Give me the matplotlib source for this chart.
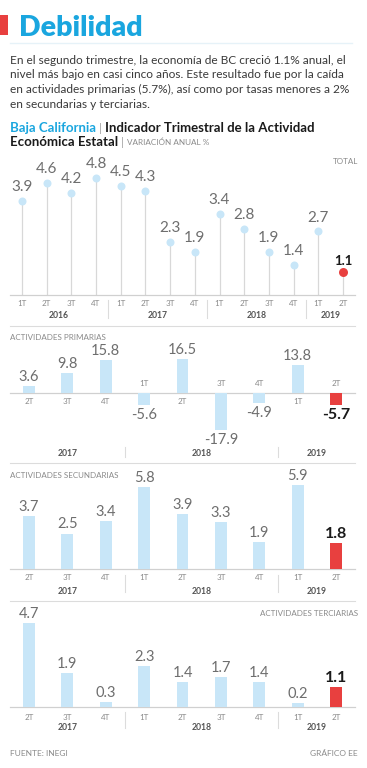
import matplotlib
matplotlib.use('Agg')
import matplotlib.pyplot as plt
from matplotlib.transforms import Affine2D, blended_transform_factory
from matplotlib.patches import Rectangle

# ---------------- data ----------------
total_quarters = ['1T', '2T', '3T', '4T', '1T', '2T', '3T', '4T',
                  '1T', '2T', '3T', '4T', '1T', '2T']
total_years = ['2016'] * 4 + ['2017'] * 4 + ['2018'] * 4 + ['2019'] * 2
total_values = [3.9, 4.6, 4.2, 4.8, 4.5, 4.3, 2.3, 1.9, 3.4, 2.8, 1.9, 1.4, 2.7, 1.1]

sector_quarters = ['2T', '3T', '4T', '1T', '2T', '3T', '4T', '1T', '2T']
sector_years = ['2017'] * 3 + ['2018'] * 4 + ['2019'] * 2
primarias = [3.6, 9.8, 15.8, -5.6, 16.5, -17.9, -4.9, 13.8, -5.7]
secundarias = [3.7, 2.5, 3.4, 5.8, 3.9, 3.3, 1.9, 5.9, 1.8]
terciarias = [4.7, 1.9, 0.3, 2.3, 1.4, 1.7, 1.4, 0.2, 1.1]

# ---------------- style ----------------
W, H = 367, 768
BLUE = '#c8e6f8'
RED = '#e8403f'
CYAN = '#1aa6df'
GRAY = '#6e6e6e'
LGRAY = '#8a8a8a'
LINE = '#dcdcdc'
NUMFONT = ['Lato', 'DejaVu Sans']
plt.rcParams['font.family'] = ['Lato', 'DejaVu Sans']

fig = plt.figure(figsize=(W / 100, H / 100), dpi=100)
fig.patch.set_facecolor('white')
PX = Affine2D().scale(1, -1).translate(0, H)   # pixel coords from top-left
PT = 0.72  # points per pixel
renderer = fig.canvas.get_renderer()


def ftext(x, y, s, **kw):
    return fig.text(x, y, s, transform=PX, **kw)


def chain(x, y, parts, gap=4):
    for s, kw in parts:
        t = ftext(x, y, s, va='center', **kw)
        bb = t.get_window_extent(renderer)
        x = bb.x1 + gap


def fline(x0, y0, x1, y1, color=LINE, lw=0.8):
    fig.add_artist(plt.Line2D([x0, x1], [y0, y1], transform=PX, color=color, lw=lw))


def px_axes(x0, y0, x1, y1):
    ax = fig.add_axes([x0 / W, 1 - y1 / H, (x1 - x0) / W, (y1 - y0) / H])
    ax.set_axis_off()
    return ax


def year_groups(years):
    groups = []
    for i, y in enumerate(years):
        if groups and groups[-1][0] == y:
            groups[-1][2] = i
        else:
            groups.append([y, i, i])
    return groups


# ---------------- header ----------------
fig.add_artist(Rectangle((0, 15), 8, 20, transform=PX, color=RED, lw=0))
ftext(19, 35.5, 'Debilidad', color=CYAN, fontsize=20.5, fontweight='heavy', va='baseline')
fline(10, 43, 352, 43, color='#e6f2f8', lw=1)

para = ['En el segundo trimestre, la economía de BC creció 1.1% anual, el',
        'nivel más bajo en casi cinco años. Este resultado fue por la caída',
        'en actividades primarias (5.7%), así como por tasas menores a 2%',
        'en secundarias y terciarias.']
for k, line in enumerate(para):
    ftext(10, 60 + k * 14.7, line, fontsize=8.6, color='#3a3a3a', va='center')

BOLD = dict(color='#1a1a1a', fontsize=9.5, fontweight='bold')
BAR = dict(color='#aaaaaa', fontsize=8.5)
chain(10, 128, [('Baja California', dict(color=CYAN, fontsize=9.5, fontweight='bold')),
                ('|', BAR),
                ('Indicador Trimestral de la Actividad', BOLD)], gap=3)
chain(10, 142, [('Económica Estatal', BOLD),
                ('|', BAR),
                ('VARIACIÓN ANUAL %', dict(color=LGRAY, fontsize=5.9))], gap=3)

# ---------------- total lollipop ----------------
ax = px_axes(10, 160, 358, 295)
ax.set_xlim(-0.486, 13.61)
base = 0.2
ax.set_ylim(base, base + 135 / 25.4)
n = len(total_values)
xs = list(range(n))
ax.vlines(xs, base, total_values, color='#d8d8d8', lw=0.9, zorder=1)
ax.scatter(xs[:-1], total_values[:-1], s=(8 * PT) ** 2, color=BLUE, zorder=2, lw=0)
ax.scatter(xs[-1:], total_values[-1:], s=(9 * PT) ** 2, color=RED, zorder=2, lw=0)
for i, v in enumerate(total_values):
    last = i == n - 1
    ax.annotate(f'{v}', (i, v), xytext=(0, (11 if last else 14) * PT), textcoords='offset points',
                ha='center', va='center', fontsize=9.5 if last else 11,
                fontweight='bold' if last else 'normal',
                color='#1a1a1a' if last else GRAY, family=NUMFONT, annotation_clip=False)
tr = blended_transform_factory(ax.transData, PX)
ax.plot([-0.49, 13.5], [295, 295], transform=tr, color='#d0d0d0', lw=0.9, clip_on=False)
for i, q in enumerate(total_quarters):
    ax.text(i, 303, q, transform=tr, ha='center', va='center', fontsize=5.8, color=LGRAY)
groups = year_groups(total_years)
for gi, (y, a, b) in enumerate(groups):
    ax.text((a + b) / 2, 315, y, transform=tr, ha='center', va='center', fontsize=6.2,
            color='#555555', fontweight='bold')
    if gi > 0:
        ax.plot([a - 0.5, a - 0.5], [300, 318], transform=tr, color=LINE, lw=0.8, clip_on=False)
ftext(358, 161, 'TOTAL', ha='right', va='center', fontsize=5.8, color=LGRAY)
fline(10, 326, 355, 326)


# ---------------- sector bars ----------------
def sector_panel(values, top_px, zero_px, bottom_px, scale, tick_dy, year_dy, sep):
    ax = px_axes(10, top_px, 358, bottom_px)
    ax.set_xlim(-0.495, 8.573)
    ax.set_ylim(-(bottom_px - zero_px) / scale, (zero_px - top_px) / scale)
    m = len(values)
    cols = [BLUE] * (m - 1) + [RED]
    ax.bar(range(m), values, width=0.3125, color=cols, lw=0, zorder=2)
    trp = blended_transform_factory(ax.transData, PX)
    ax.plot([-0.5, 8.5], [zero_px, zero_px], transform=trp, color='#d0d0d0', lw=0.9,
            clip_on=False, zorder=1)
    for i, v in enumerate(values):
        last = i == m - 1
        dy = 2 if v >= 0 else -3
        ax.annotate(f'{v}', (i, v), xytext=(0, dy * PT), textcoords='offset points',
                    ha='center', va='bottom' if v >= 0 else 'top',
                    fontsize=11.5 if last else 10.5, fontweight='bold' if last else 'normal',
                    color='#1a1a1a' if last else GRAY, family=NUMFONT, annotation_clip=False)
        qdy = tick_dy if v >= 0 else -10
        ax.text(i, zero_px + qdy, sector_quarters[i], transform=trp, ha='center', va='center',
                fontsize=5.8, color=LGRAY)
    for gi, (y, a, b) in enumerate(year_groups(sector_years)):
        ax.text((a + b) / 2, zero_px + year_dy, y, transform=trp, ha='center', va='center',
                fontsize=6.2, color='#555555', fontweight='bold')
        if gi > 0:
            ax.plot([a - 0.5, a - 0.5], [zero_px + sep[0], zero_px + sep[1]], transform=trp,
                    color=LINE, lw=0.8, clip_on=False)
    return ax


ftext(10, 337, 'ACTIVIDADES PRIMARIAS', fontsize=5.8, color=LGRAY, va='center')
sector_panel(primarias, 350, 393, 440, 2.06, 9, 60, (54, 64))
fline(10, 463, 355, 463)

ftext(10, 476, 'ACTIVIDADES SECUNDARIAS', fontsize=5.8, color=LGRAY, va='center')
sector_panel(secundarias, 480, 569, 569, 14.2, 9, 22, (6, 23))
fline(10, 601, 355, 601)

ftext(358, 613, 'ACTIVIDADES TERCIARIAS', ha='right', fontsize=5.8, color=LGRAY, va='center')
sector_panel(terciarias, 615, 707, 707, 17.9, 10, 21, (5, 21))

ftext(10, 753, 'FUENTE: INEGI', fontsize=6, color=LGRAY, va='center')
ftext(358, 753, 'GRÁFICO EE', ha='right', fontsize=6, color=LGRAY, va='center')

fig.savefig('out.png', dpi=100)
